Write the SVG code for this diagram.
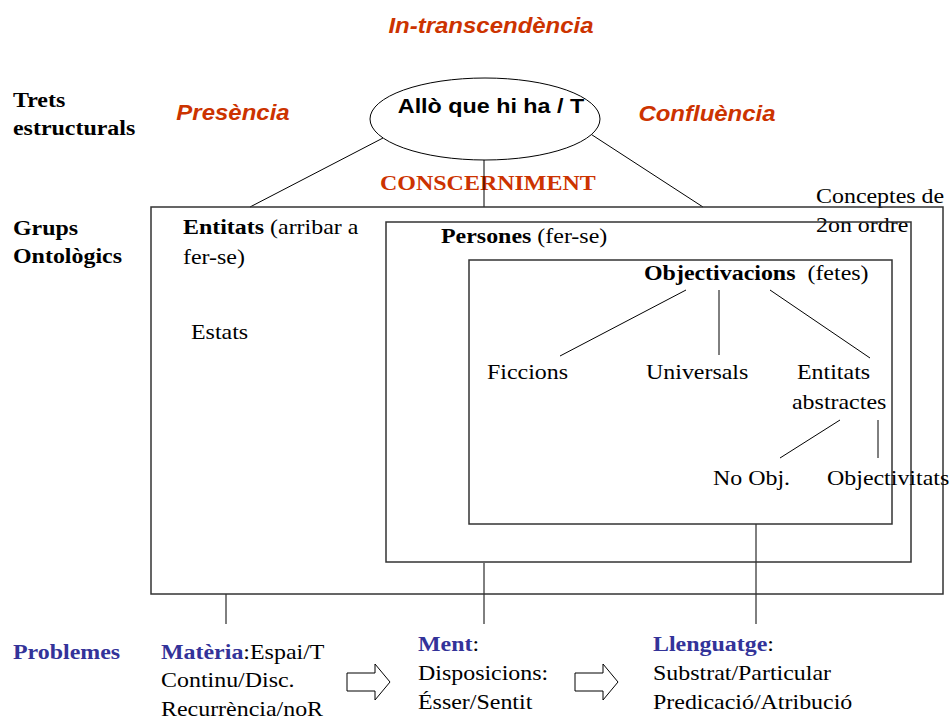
<svg xmlns="http://www.w3.org/2000/svg" width="951" height="720" viewBox="0 0 951 720">
<style>
.t{font-family:"Liberation Serif","Times New Roman",serif;font-size:21px;fill:#000}
.b{font-weight:bold}
.red{font-family:"Liberation Sans",Arial,sans-serif;font-weight:bold;font-style:italic;font-size:22px;fill:#cc3300}
.blue{fill:#333399;font-weight:bold}
.ln{stroke:#000;stroke-width:1;fill:none}
.box{fill:none;stroke:#333;stroke-width:1.5}
.arr{fill:#fff;stroke:#000;stroke-width:1}
</style>
<rect width="951" height="720" fill="#fff"/>
<g id="labels">
<text class="red" transform="translate(491,33) scale(1.09,1)" text-anchor="middle">In-transcendència</text>
<text class="red" transform="translate(233,120) scale(1.09,1)" text-anchor="middle">Presència</text>
<text class="red" transform="translate(707,121) scale(1.09,1)" text-anchor="middle">Confluència</text>
<text class="t b" transform="translate(13,107) scale(1.14,1)">Trets</text>
<text class="t b" transform="translate(13,135) scale(1.14,1)">estructurals</text>
<text class="t b" transform="translate(13,235) scale(1.14,1)">Grups</text>
<text class="t b" transform="translate(13,263) scale(1.14,1)">Ontològics</text>
<text class="t b" transform="translate(380,190) scale(1.09,1)" style="fill:#cc3300;font-size:22px">CONSCERNIMENT</text>
<text class="t" transform="translate(816,203) scale(1.14,1)">Conceptes de</text>
<text class="t" transform="translate(816,232) scale(1.14,1)">2on ordre</text>
</g>
<g id="connectors">
<line class="ln" x1="383" y1="138" x2="250" y2="207"/>
<line class="ln" x1="484" y1="158" x2="484" y2="207"/>
<line class="ln" x1="586" y1="131" x2="703" y2="207"/>
<line class="ln" x1="686" y1="290" x2="560" y2="356"/>
<line class="ln" x1="719" y1="290" x2="719" y2="355"/>
<line class="ln" x1="770" y1="290" x2="870" y2="358"/>
<line class="ln" x1="840" y1="420" x2="780" y2="458"/>
<line class="ln" x1="878" y1="420" x2="878" y2="458"/>
<line class="ln" x1="226" y1="594" x2="226" y2="624"/>
<line class="ln" x1="484" y1="563" x2="484" y2="624"/>
<line class="ln" x1="756" y1="524" x2="756" y2="624"/>
</g>
<g id="root">
<ellipse cx="485" cy="119" rx="115" ry="41" fill="#fff" stroke="#000" stroke-width="1"/>
<text transform="translate(491,113) scale(1.11,1)" text-anchor="middle" style="font-family:'Liberation Sans',Arial,sans-serif;font-weight:bold;font-size:21px">Allò que hi ha / T</text>
</g>
<g id="entitats">
<rect class="box" x="151" y="207" width="792" height="387"/>
<text class="t" transform="translate(183,234) scale(1.14,1)"><tspan class="b">Entitats</tspan> (arribar a</text>
<text class="t" transform="translate(183,264) scale(1.14,1)">fer-se)</text>
<text class="t" transform="translate(191,339) scale(1.14,1)">Estats</text>
</g>
<g id="persones">
<rect class="box" x="386" y="222" width="525" height="340"/>
<text class="t" transform="translate(441,243) scale(1.14,1)"><tspan class="b">Persones</tspan> (fer-se)</text>
</g>
<g id="objectivacions">
<rect class="box" x="469" y="260" width="423" height="264"/>
<text class="t" transform="translate(644,280) scale(1.14,1)" xml:space="preserve"><tspan class="b">Objectivacions</tspan>  (fetes)</text>
</g>
<g id="ficcions"><text class="t" transform="translate(487,379) scale(1.14,1)">Ficcions</text></g>
<g id="universals"><text class="t" transform="translate(646,379) scale(1.14,1)">Universals</text></g>
<g id="abstractes">
<text class="t" transform="translate(797,379) scale(1.14,1)">Entitats</text>
<text class="t" transform="translate(792,409) scale(1.14,1)">abstractes</text>
</g>
<g id="noobj"><text class="t" transform="translate(713,485) scale(1.14,1)">No Obj.</text></g>
<g id="objectivitats"><text class="t" transform="translate(827,485) scale(1.14,1)">Objectivitats</text></g>
<g id="problemes"><text class="t blue" transform="translate(13,659) scale(1.14,1)">Problemes</text></g>
<g id="materia">
<text class="t" transform="translate(161,659) scale(1.14,1)"><tspan class="blue">Matèria</tspan>:Espai/T</text>
<text class="t" transform="translate(161,687) scale(1.14,1)">Continu/Disc.</text>
<text class="t" transform="translate(161,716) scale(1.14,1)">Recurrència/noR</text>
</g>
<g id="arrow1"><path class="arr" d="M347,673 H375 V664 L390,682 L375,700 V691 H347 Z"/></g>
<g id="ment">
<text class="t" transform="translate(418,651) scale(1.14,1)"><tspan class="blue">Ment</tspan>:</text>
<text class="t" transform="translate(418,680) scale(1.14,1)">Disposicions:</text>
<text class="t" transform="translate(418,709) scale(1.14,1)">Ésser/Sentit</text>
</g>
<g id="arrow2"><path class="arr" d="M575,673 H603 V664 L618,682 L603,700 V691 H575 Z"/></g>
<g id="llenguatge">
<text class="t" transform="translate(653,651) scale(1.14,1)"><tspan class="blue">Llenguatge</tspan>:</text>
<text class="t" transform="translate(653,680) scale(1.14,1)">Substrat/Particular</text>
<text class="t" transform="translate(653,709) scale(1.14,1)">Predicació/Atribució</text>
</g>
</svg>
